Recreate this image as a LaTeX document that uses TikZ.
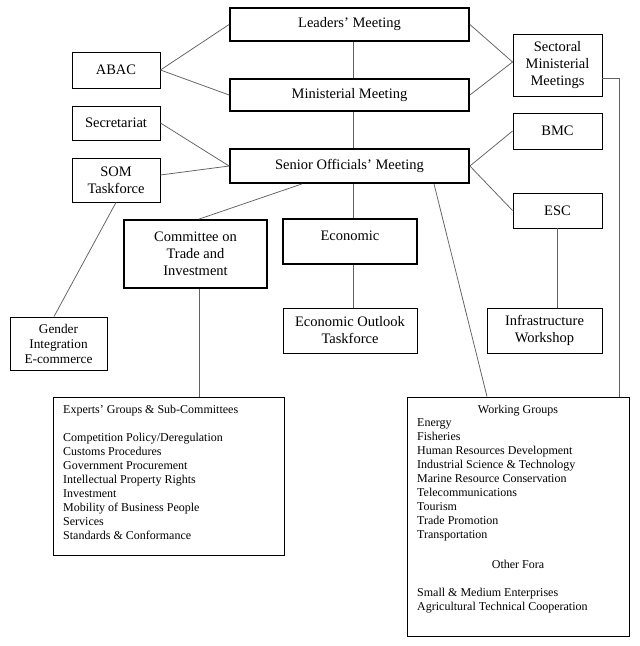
\documentclass[tikz,border=0pt]{standalone}
\usepackage{fontspec}
\setmainfont{Liberation Serif}
\newcommand\boxfnt{\fontsize{14.5}{17}\selectfont}
\newcommand\lstfnt{\fontsize{12}{14}\selectfont}
\newcommand\gfnt{\fontsize{13.3}{15}\selectfont}
\begin{document}
\begin{tikzpicture}[x=1pt,y=-1pt,
  thinbox/.style={draw=black, line width=0.9pt, inner sep=0pt, align=center, font=\boxfnt},
  thickbox/.style={draw=black, line width=1.8pt, inner sep=0pt, align=center, font=\boxfnt},
  conn/.style={draw=black!62, line width=0.75pt},
  lst/.style={inner sep=0pt, align=left, font=\lstfnt},
  lsthead/.style={inner sep=0pt, font=\lstfnt}]
\path[fill=white] (0,0) rectangle (640,646);
\useasboundingbox (0,0) rectangle (640,646);

% top column
\node[thickbox, minimum width=239pt, minimum height=33pt] (leaders) at (349.5,24.5) {Leaders’ Meeting};
\node[thickbox, minimum width=239pt, minimum height=32pt] (minist) at (349.5,95) {Ministerial Meeting};
\node[thickbox, minimum width=239pt, minimum height=34pt] (som) at (349.5,166) {Senior Officials’ Meeting};

% left
\node[thinbox, minimum width=88pt, minimum height=36pt] (abac) at (116,70) {ABAC};
\node[thinbox, minimum width=88pt, minimum height=34pt] (secr) at (116,123) {Secretariat};
\node[thinbox, minimum width=88pt, minimum height=44pt] (somtf) at (116,180) {SOM\\Taskforce};
\node[thinbox, font=\gfnt, minimum width=97pt, minimum height=53pt] (gender) at (58.5,343.5) {Gender\\Integration\\E-commerce};

% right
\node[thinbox, minimum width=89pt, minimum height=62pt] (sect) at (557.5,65) {Sectoral\\Ministerial\\Meetings};
\node[thinbox, minimum width=89pt, minimum height=36pt] (bmc) at (557.5,131) {BMC};
\node[thinbox, minimum width=89pt, minimum height=35pt] (esc) at (557.5,210.5) {ESC};
\node[thinbox, minimum width=115pt, minimum height=45pt] (infra) at (544.5,330.5) {Infrastructure\\Workshop};

% middle
\node[thickbox, minimum width=143pt, minimum height=68pt] (cti) at (195.5,254) {Committee on\\Trade and\\Investment};
\node[thickbox, minimum width=134pt, minimum height=45pt] (econ) at (350,241.5) {};
\node[inner sep=0pt, font=\boxfnt] (econlbl) at (350,235.5) {Economic};
\node[thinbox, minimum width=134pt, minimum height=45pt] (eot) at (350,330.5) {Economic Outlook\\Taskforce};

% bottom boxes
\node[thinbox, minimum width=231pt, minimum height=158pt] (experts) at (168.5,476) {};
\node[lst, anchor=north west] (explist) at (63,404.8) {Experts’ Groups \& Sub-Committees\\[14pt]
Competition Policy/Deregulation\\
Customs Procedures\\
Government Procurement\\
Intellectual Property Rights\\
Investment\\
Mobility of Business People\\
Services\\
Standards \& Conformance};

\node[thinbox, minimum width=222pt, minimum height=239pt] (wg) at (518,516.5) {};
\node[lsthead, anchor=base] (wghead) at (518,413) {Working Groups};
\node[lst, anchor=north west] (wglist) at (417,418.8) {Energy\\
Fisheries\\
Human Resources Development\\
Industrial Science \& Technology\\
Marine Resource Conservation\\
Telecommunications\\
Tourism\\
Trade Promotion\\
Transportation};
\node[lsthead, anchor=base] (forahead) at (518,568) {Other Fora};
\node[lst, anchor=north west] (foralist) at (417,587.8) {Small \& Medium Enterprises\\
Agricultural Technical Cooperation};

% connectors
\draw[conn] (abac.east) -- (leaders.west);
\draw[conn] (abac.east) -- (minist.west);
\draw[conn] (secr.east) -- (som.west);
\draw[conn] ([yshift=5pt]somtf.east) -- (som.west);
\draw[conn] (leaders.east) -- ([yshift=3pt]sect.west);
\draw[conn] (minist.east) -- ([yshift=3pt]sect.west);
\draw[conn] (som.east) -- (bmc.west);
\draw[conn] (som.east) -- (esc.west);
\draw[conn] ([xshift=3.5pt]leaders.south) -- ([xshift=3.5pt]minist.north);
\draw[conn] ([xshift=3.5pt]minist.south) -- ([xshift=3.5pt]som.north);
\draw[conn] ([xshift=3.5pt]som.south) -- ([xshift=3pt]econ.north);
\draw[conn] ([xshift=3pt]econ.south) -- ([xshift=3pt]eot.north);
\draw[conn] ([xshift=-47.5pt]som.south) -- ([xshift=3.5pt]cti.north);
\draw[conn] ([xshift=3.5pt]cti.south) -- ([xshift=30.5pt]experts.north);
\draw[conn] ([xshift=84.5pt]som.south) -- ([xshift=-31pt]wg.north);
\draw[conn] (somtf.south) -- ([xshift=-4.5pt]gender.north);
\draw[conn] (esc.south) -- ([xshift=13pt]infra.north);
\draw[conn] ([yshift=-13pt]sect.east) -| ([xshift=101pt]wg.north);
\end{tikzpicture}
\end{document}
